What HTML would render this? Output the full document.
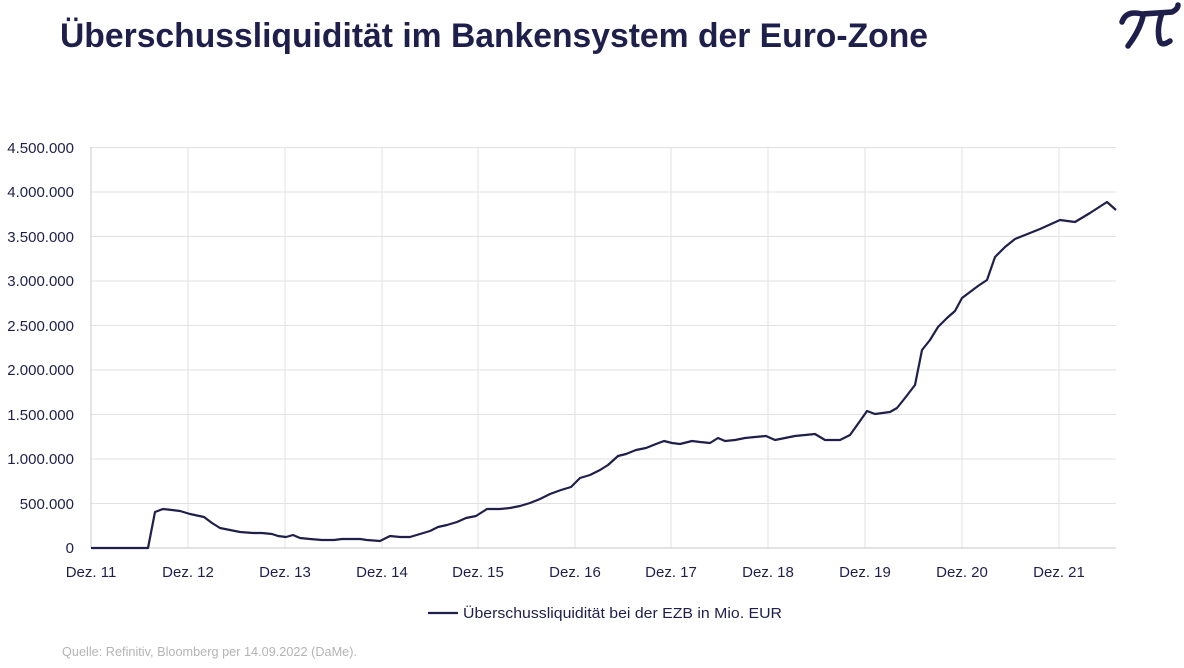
<!DOCTYPE html>
<html><head><meta charset="utf-8"><style>
body{margin:0;background:#fff;width:1184px;height:663px;overflow:hidden;font-family:"Liberation Sans",sans-serif}
</style></head><body>
<svg width="1184" height="663" viewBox="0 0 1184 663" xmlns="http://www.w3.org/2000/svg">
<text x="60" y="47" font-family="Liberation Sans, sans-serif" font-weight="bold" font-size="34" fill="#1f1f4b" textLength="868" lengthAdjust="spacingAndGlyphs">Überschussliquidität im Bankensystem der Euro-Zone</text>
<path d="M1122 22 Q1126 10 1142 14 L1172 12 Q1178 9 1178 5 M1143 16 Q1140 30 1128 46 M1162 13 Q1156 30 1160 42 Q1163 46 1170 41" fill="none" stroke="#1f1f4b" stroke-width="5.5" stroke-linecap="round"/>
<g stroke="#e2e2e2" stroke-width="1">
<line x1="91" y1="147.5" x2="1116" y2="147.5"/><line x1="91" y1="192" x2="1116" y2="192"/><line x1="91" y1="236.5" x2="1116" y2="236.5"/><line x1="91" y1="281" x2="1116" y2="281"/><line x1="91" y1="325.5" x2="1116" y2="325.5"/><line x1="91" y1="370" x2="1116" y2="370"/><line x1="91" y1="414.5" x2="1116" y2="414.5"/><line x1="91" y1="459" x2="1116" y2="459"/><line x1="91" y1="503.5" x2="1116" y2="503.5"/>
<line x1="188" y1="147" x2="188" y2="548"/><line x1="285" y1="147" x2="285" y2="548"/><line x1="382" y1="147" x2="382" y2="548"/><line x1="478" y1="147" x2="478" y2="548"/><line x1="575" y1="147" x2="575" y2="548"/><line x1="671" y1="147" x2="671" y2="548"/><line x1="768" y1="147" x2="768" y2="548"/><line x1="865" y1="147" x2="865" y2="548"/><line x1="962" y1="147" x2="962" y2="548"/><line x1="1059" y1="147" x2="1059" y2="548"/>
</g>
<line x1="91" y1="147" x2="91" y2="548" stroke="#c8c8c8"/>
<line x1="91" y1="548" x2="1116" y2="548" stroke="#c8c8c8"/>
<g font-size="15" fill="#1f1f4b" text-anchor="end">
<text x="74" y="153">4.500.000</text><text x="74" y="197">4.000.000</text><text x="74" y="242">3.500.000</text><text x="74" y="286">3.000.000</text><text x="74" y="331">2.500.000</text><text x="74" y="375">2.000.000</text><text x="74" y="420">1.500.000</text><text x="74" y="464">1.000.000</text><text x="74" y="509">500.000</text><text x="74" y="553">0</text>
</g>
<g font-size="15" fill="#1f1f4b" text-anchor="middle">
<text x="91" y="577">Dez. 11</text><text x="188" y="577">Dez. 12</text><text x="285" y="577">Dez. 13</text><text x="382" y="577">Dez. 14</text><text x="478" y="577">Dez. 15</text><text x="575" y="577">Dez. 16</text><text x="671" y="577">Dez. 17</text><text x="768" y="577">Dez. 18</text><text x="865" y="577">Dez. 19</text><text x="962" y="577">Dez. 20</text><text x="1059" y="577">Dez. 21</text>
</g>
<polyline fill="none" stroke="#1f1f4b" stroke-width="2.2" stroke-linejoin="round" points="91,548 148,548 155,512 163,509 172,510 180,511 190,514 204,517 212,523 220,528 230,530 240,532 253,533 262,533 272,534 278,536 286,537 293,535 300,538 310,539 322,540 334,540 342,539 350,539 360,539 367,540 380,541 390,536 400,537 410,537 420,534 430,531 438,527 447,525 457,522 466,518 476,516 487,509 500,509 510,508 520,506 530,503 540,499 550,494 561,490 571,487 580,478 590,475 600,470 608,465 618,456 626,454 636,450 646,448 656,444 664,441 672,443 680,444 692,441 700,442 710,443 718,438 725,441 735,440 745,438 755,437 766,436 775,440 785,438 795,436 805,435 815,434 825,440 840,440 850,435 860,421 867,411 875,414 890,412 897,408 905,398 915,385 922,350 930,340 938,327 947,318 955,311 962,298 970,292 978,286 987,280 995,257 1005,247 1015,239 1025,235 1040,229 1060,220 1075,222 1090,213 1107,202 1116,210"/>
<line x1="428" y1="613" x2="458" y2="613" stroke="#1f1f4b" stroke-width="2.2"/>
<text x="463" y="618" font-size="15" fill="#1f1f4b" textLength="319" lengthAdjust="spacingAndGlyphs">Überschussliquidität bei der EZB in Mio. EUR</text>
<text x="62" y="656" font-size="13" fill="#b4b4b4" textLength="295" lengthAdjust="spacingAndGlyphs">Quelle: Refinitiv, Bloomberg per 14.09.2022 (DaMe).</text>
</svg>
</body></html>
